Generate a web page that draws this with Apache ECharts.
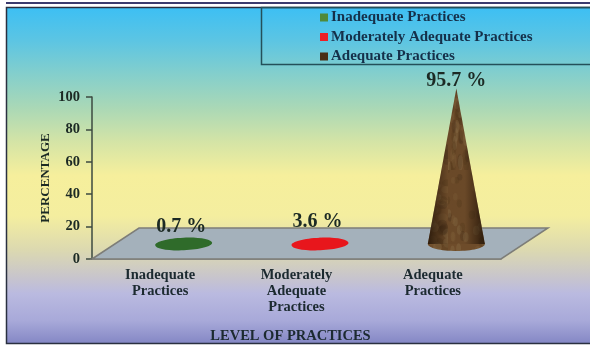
<!DOCTYPE html>
<html>
<head>
<meta charset="utf-8">
<title>Level of practices</title>
<script src="https://cdn.jsdelivr.net/npm/echarts@6/dist/echarts.min.js"></script>
<style>
  html, body { margin: 0; padding: 0; background: #fff; }
  #chart { width: 590px; height: 346px; filter: blur(0.5px); }
</style>
</head>
<body>
<div id="chart"></div>
<script>
var categories = ['Inadequate\nPractices', 'Moderately\nAdequate\nPractices', 'Adequate\nPractices'];
var legendNames = ['Inadequate Practices', 'Moderately Adequate Practices', 'Adequate Practices'];
var values = [0.7, 3.6, 95.7];
var valueLabels = ['0.7 %', '3.6 %', '95.7 %'];
var yTicks = [0, 20, 40, 60, 80, 100];

var serif = '"Liberation Serif", serif';
var depthX = 47, depthY = 31;   // slant of the floor

// mottled bark texture for the tall cone
function barkTexture() {
  var c = document.createElement('canvas');
  c.width = 64; c.height = 170;
  var g = c.getContext('2d');
  g.fillStyle = '#6e4c2a';
  g.fillRect(0, 0, 64, 170);
  var cols = ['#54381c', '#84643c', '#46301a', '#927650'];
  for (var i = 0; i < 200; i++) {
    var a = Math.abs(Math.sin(i * 12.9898) * 43758.5453) % 1;
    var b = Math.abs(Math.sin(i * 78.233) * 24634.6345) % 1;
    g.fillStyle = cols[i % 4];
    g.globalAlpha = 0.3;
    g.beginPath();
    g.ellipse(a * 64, b * 170, 2 + a * 3, 3 + b * 5, 0, 0, Math.PI * 2);
    g.fill();
  }
  return c;
}
var bark = barkTexture();

function floorItem(params, api) {
  var cs = params.coordSys;
  var bottom = cs.y + cs.height;
  return {
    type: 'polygon',
    shape: { points: [
      [cs.x, bottom], [cs.x + depthX, bottom - depthY],
      [cs.x + cs.width + depthX, bottom - depthY], [cs.x + cs.width, bottom]
    ] },
    style: { fill: '#a4b1bb', stroke: '#7d7d78', lineWidth: 1.5 }
  };
}

function coneItem(color, textured) {
  return function (params, api) {
    var idx = api.value(0);
    var top = api.coord([idx, api.value(1)]);
    var base = api.coord([idx, 0]);
    var x = base[0] + depthX / 2, y = base[1] - depthY / 2 + 0.5;
    var tipY = top[1] - depthY / 2;
    var rx = 28.5, ry = textured ? 7 : 6.3;
    var kids = [];
    var fill = textured ? { image: bark, repeat: 'repeat' } : color;
    kids.push({ type: 'polygon', shape: { points: [[x - rx, y], [x, tipY], [x + rx, y]] }, style: { fill: fill } });
    kids.push({
      type: 'ellipse', shape: { cx: x, cy: y, rx: rx, ry: ry }, style: { fill: fill },
      rotation: textured ? 0 : 0.04, originX: x, originY: y
    });
    if (textured) {
      var shade = new echarts.graphic.LinearGradient(0, 0, 1, 0, [
        { offset: 0, color: 'rgba(30,16,4,0.8)' },
        { offset: 0.35, color: 'rgba(30,16,4,0.05)' },
        { offset: 0.65, color: 'rgba(30,16,4,0.05)' },
        { offset: 1, color: 'rgba(30,16,4,0.8)' }
      ]);
      kids.push({ type: 'polygon', shape: { points: [[x - rx, y], [x, tipY], [x + rx, y]] }, style: { fill: shade } });
    }
    kids.push({
      type: 'text',
      style: {
        text: valueLabels[idx], x: x - (textured ? 0 : 2.5), y: tipY - (textured ? 8 : 16),
        align: 'center', verticalAlign: 'middle',
        font: 'bold 20px ' + serif, fill: '#1c2a24'
      }
    });
    return { type: 'group', children: kids };
  };
}

var chart = echarts.init(document.getElementById('chart'));

var option = {
  animation: false,
  graphic: [
    { type: 'rect', z: -10, shape: { x: 6, y: 2, width: 584, height: 2 }, style: { fill: '#3b3b6e' } },
    {
      type: 'rect', z: -10,
      shape: { x: 6.5, y: 7.5, width: 590, height: 336 },
      style: {
        stroke: '#2a3040', lineWidth: 1.5,
        fill: new echarts.graphic.LinearGradient(0, 0, 0, 1, [
          { offset: 0, color: '#3cbff4' },
          { offset: 0.1, color: '#5cc5e3' },
          { offset: 0.2, color: '#84cfcc' },
          { offset: 0.3, color: '#aad8b6' },
          { offset: 0.4, color: '#d4e4a6' },
          { offset: 0.5, color: '#f6ef9c' },
          { offset: 0.62, color: '#f4ee9f' },
          { offset: 0.72, color: '#dcd9b0' },
          { offset: 0.8, color: '#c8c5cc' },
          { offset: 0.85, color: '#babae0' },
          { offset: 0.93, color: '#a8a9d9' },
          { offset: 1, color: '#8386c4' }
        ])
      }
    },
    {
      type: 'rect', z: -9,
      shape: { x: 261.5, y: 7.5, width: 340, height: 57 },
      style: { fill: 'transparent', stroke: '#24505a', lineWidth: 1.5 }
    }
  ],
  legend: {
    data: legendNames,
    orient: 'vertical',
    left: 315,
    top: 5,
    itemWidth: 8,
    itemHeight: 8,
    itemGap: 4.5,
    icon: 'rect',
    textStyle: { fontFamily: serif, fontWeight: 'bold', fontSize: 15, color: '#15304a', padding: [0, 0, 0, -2] }
  },
  grid: { left: 92, right: 89, top: 97, bottom: 87 },
  xAxis: {
    type: 'category',
    data: categories,
    name: 'LEVEL OF PRACTICES',
    nameLocation: 'middle',
    nameGap: 70,
    nameTextStyle: { fontFamily: serif, fontWeight: 'bold', fontSize: 14.5, color: '#1c2a30', padding: [0, 12, 0, 0] },
    axisLine: { lineStyle: { color: '#7d7d78', width: 1.5 } },
    axisTick: { length: 3, lineStyle: { color: '#7d7d78' } },
    axisLabel: { fontFamily: serif, fontWeight: 'bold', fontSize: 14.5, color: '#1c2a30', lineHeight: 16, margin: 8 }
  },
  yAxis: {
    type: 'value',
    min: 0,
    max: 100,
    interval: 20,
    name: 'PERCENTAGE',
    nameLocation: 'middle',
    nameGap: 40,
    nameMoveOverlap: false,
    nameTextStyle: { fontFamily: serif, fontWeight: 'bold', fontSize: 13, color: '#1c2a24' },
    splitLine: { show: false },
    axisLine: { show: true, lineStyle: { color: '#3d4a40', width: 1.5 } },
    axisTick: { show: true, length: 6, lineStyle: { color: '#3d4a40', width: 1.5 } },
    axisLabel: { fontFamily: serif, fontWeight: 'bold', fontSize: 14.5, color: '#1c2a24', margin: 12,
      formatter: function (v) { return yTicks.indexOf(v) >= 0 ? v : ''; } }
  },
  series: [
    { name: 'floor', type: 'custom', silent: true, z: 1, renderItem: floorItem, data: [[0, 0]], clip: false },
    { name: legendNames[0], type: 'custom', z: 2, itemStyle: { color: '#4f8a3a' }, renderItem: coneItem('#2f6b2a', false), data: [[0, values[0]]], clip: false },
    { name: legendNames[1], type: 'custom', z: 2, itemStyle: { color: '#ee2026' }, renderItem: coneItem('#e8161c', false), data: [[1, values[1]]], clip: false },
    { name: legendNames[2], type: 'custom', z: 2, itemStyle: { color: '#4a2e14' }, renderItem: coneItem('#6a4826', true), data: [[2, values[2]]], clip: false }
  ]
};

chart.setOption(option);
</script>
</body>
</html>
